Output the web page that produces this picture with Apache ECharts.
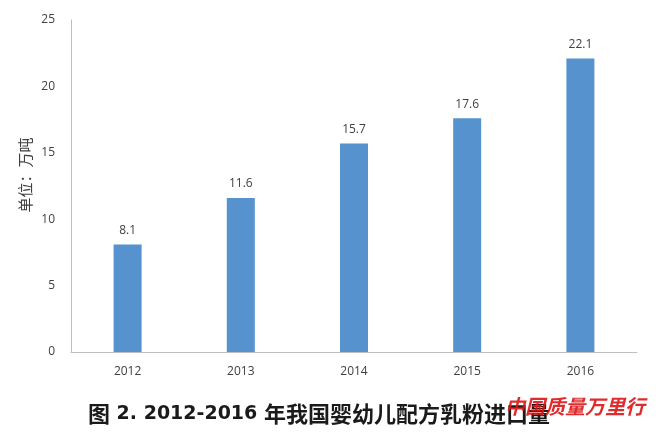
<!DOCTYPE html>
<html><head><meta charset="utf-8">
<script src="https://cdn.jsdelivr.net/npm/echarts@6/dist/echarts.min.js"></script>
<style>html,body{margin:0;padding:0;background:#fff}#c{width:656px;height:442px}</style>
</head><body><div id="c"></div>
<script>
const years = ['2012','2013','2014','2015','2016'];
const imports = [8.1, 11.6, 15.7, 17.6, 22.1];
const yTicks = [0, 5, 10, 15, 20, 25];
const titleHead = '图';
const titleNum = ' 2. 2012-2016 ';
const titleTail = '年我国婴幼儿配方乳粉进口量';
const yName = '单位：万吨';
const watermark = '中国质量万里行';

const chart = echarts.init(document.getElementById('c'));
chart.setOption({
  backgroundColor: '#fff',
  animation: false,
  grid: {left: 71, right: 19, top: 20, bottom: 90},
  xAxis: {
    type: 'category', data: years,
    axisLine: {lineStyle: {color: '#bfbfbf', width: 1}},
    axisTick: {show: false},
    axisLabel: {color: '#404040', fontSize: 12, margin: 14, fontFamily: 'Open Sans'}
  },
  yAxis: {
    type: 'value', min: yTicks[0], max: yTicks[yTicks.length-1], interval: 5,
    name: yName, nameLocation: 'middle', nameGap: 38, nameRotate: 90, nameMoveOverlap: false,
    nameTextStyle: {color: '#404040', fontSize: 15, fontFamily: 'Noto Sans CJK SC', padding: [0, 0, 0, 22]},
    axisLine: {show: true, lineStyle: {color: '#bfbfbf', width: 1}},
    axisTick: {show: false},
    splitLine: {show: false},
    axisLabel: {color: '#404040', fontSize: 12, margin: 16, fontFamily: 'Open Sans'}
  },
  series: [{
    type: 'bar', data: imports, barWidth: 28,
    itemStyle: {color: '#5592CE'},
    label: {show: true, position: 'top', distance: 8, color: '#404040', fontSize: 12, fontFamily: 'Open Sans'}
  }],
  graphic: [
    {type: 'text', left: 88, top: 403, style: {
      text: '{a|' + titleHead + '}{b|' + titleNum + '}{a|' + titleTail + '}',
      rich: {
        a: {fontSize: 22, fontWeight: 'bold', fontFamily: 'Noto Sans CJK SC', fill: '#1a1a1a'},
        b: {fontSize: 19, fontWeight: 'bold', fontFamily: 'DejaVu Sans', fill: '#1a1a1a'}
      }
    }},
    {type: 'text', left: 505, top: 396, style: {text: watermark, fill: 'rgba(220,20,20,0.9)', font: 'italic bold 20px "Noto Sans CJK SC"'}}
  ]
});
</script></body></html>
